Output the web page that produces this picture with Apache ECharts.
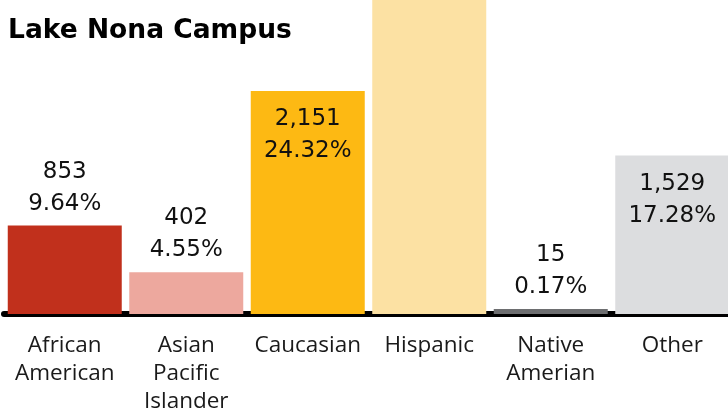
<!DOCTYPE html>
<html>
<head>
<meta charset="utf-8">
<script src="https://cdn.jsdelivr.net/npm/echarts@6/dist/echarts.min.js"></script>
<style>html,body{margin:0;padding:0;background:#fff}#c{width:728px;height:409px}</style>
</head>
<body>
<div id="c"></div>
<script>
var categories = ["African\nAmerican", "Asian\nPacific\nIslander", "Caucasian", "Hispanic", "Native\nAmerian", "Other"];
var counts = [853, 402, 2151, 3897, 15, 1529];
var countLabels = ["853", "402", "2,151", "3,897", "15", "1,529"];
var percents = ["9.64%", "4.55%", "24.32%", "44.05%", "0.17%", "17.28%"];
var colors = ["#C1301C", "#EDA89E", "#FDB913", "#FCE1A3", "#6D6E70", "#DCDDDF"];
var labelPos = ["top", "top", "insideTop", "none", "top", "insideTop"];

var chart = echarts.init(document.getElementById('c'), null, {renderer: 'canvas'});
var data = counts.map(function (v, i) {
  var pos = labelPos[i];
  return {
    value: v,
    itemStyle: {color: colors[i]},
    label: {
      show: pos !== 'none',
      position: pos === 'none' ? 'top' : pos,
      distance: pos === 'insideTop' ? 12 : 6
    }
  };
});
chart.setOption({
  animation: false,
  title: {
    text: 'Lake Nona Campus',
    left: 3, top: 13,
    textStyle: {fontFamily: 'DejaVu Sans', fontWeight: 'bold', fontSize: 26.5, color: '#000'}
  },
  grid: {left: 4, right: -5, top: 0, bottom: 95, containLabel: false, outerBoundsMode: 'none'},
  xAxis: {
    type: 'category',
    data: categories,
    axisLine: {lineStyle: {color: '#000', width: 6}},
    axisTick: {show: false},
    axisLabel: {
      interval: 0, margin: 18,
      fontFamily: 'Open Sans', fontSize: 22.5, color: '#1a1a1a', lineHeight: 28
    }
  },
  yAxis: {type: 'value', min: 0, max: 3030, show: false, splitLine: {show: false}},
  series: [{
    type: 'bar',
    data: data,
    barWidth: 114,
    barMinHeight: 5,
    label: {
      formatter: function (p) { return countLabels[p.dataIndex] + '\n' + percents[p.dataIndex]; },
      fontFamily: 'DejaVu Sans', fontSize: 23, color: '#111', lineHeight: 32
    }
  }]
});
</script>
</body>
</html>
